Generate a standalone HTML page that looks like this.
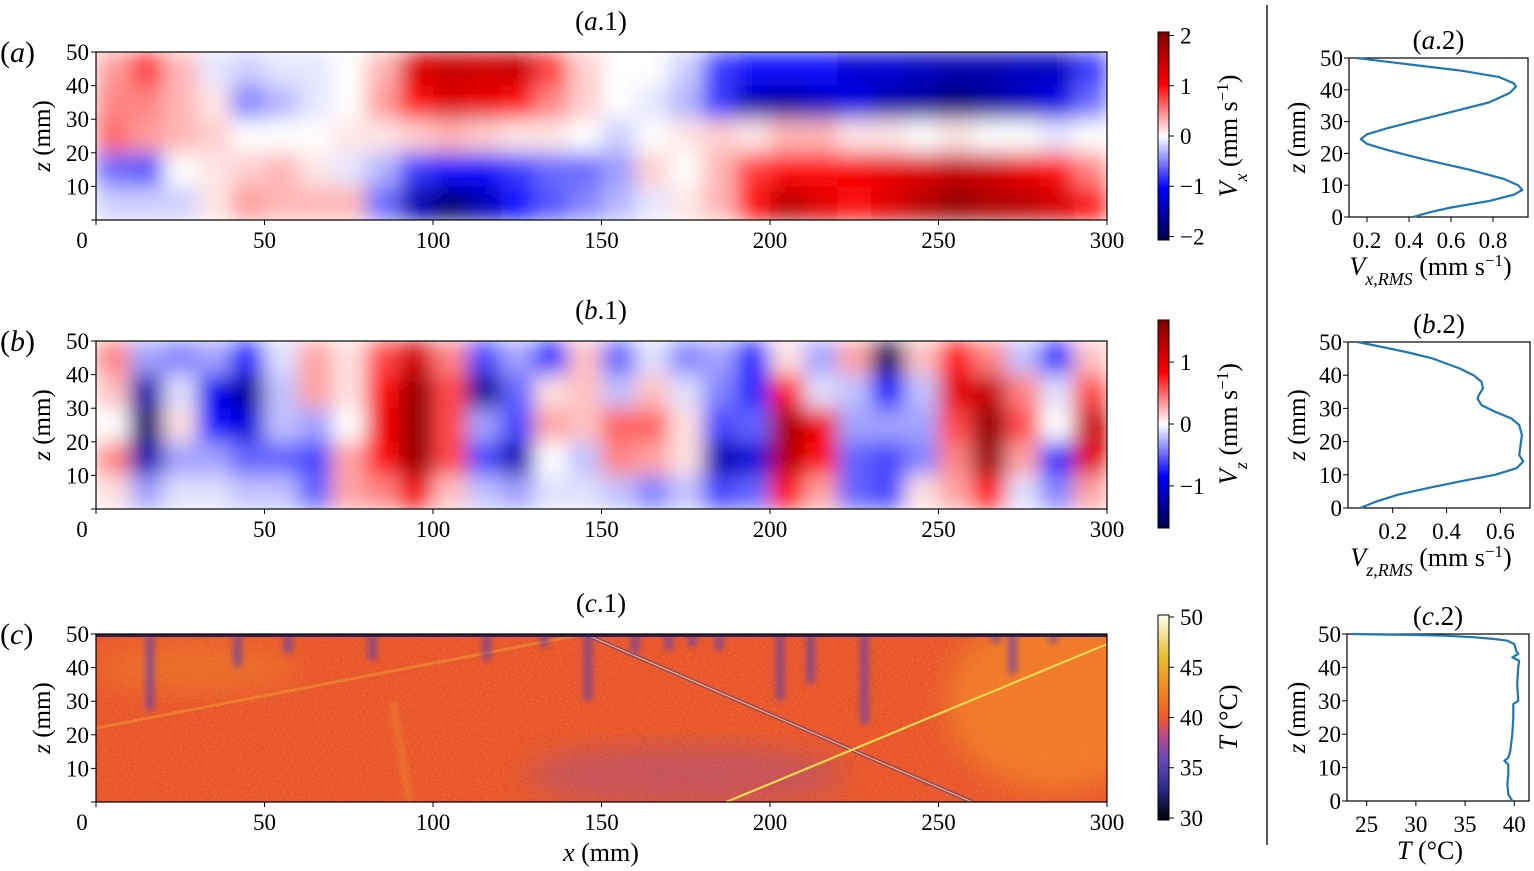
<!DOCTYPE html>
<html><head><meta charset="utf-8"><style>
body{margin:0;background:#fff;}
svg{display:block;}
svg text{font-family:"Liberation Serif","DejaVu Serif",serif;fill:#000;}
</style></head><body>
<svg id="fig" width="1534" height="871" viewBox="0 0 1534 871" font-family="Liberation Serif, serif">
<defs>
<filter id="smooth" x="0" y="0" width="1" height="1"><feGaussianBlur stdDeviation="10 11" edgeMode="duplicate"/></filter>
<filter id="blurP" x="-100%" y="-20%" width="300%" height="140%"><feGaussianBlur stdDeviation="3.5"/></filter>
<filter id="blurL" x="-20%" y="-20%" width="140%" height="140%"><feGaussianBlur stdDeviation="14"/></filter>
<filter id="grain" x="0" y="0" width="1" height="1"><feTurbulence type="fractalNoise" baseFrequency="0.35 0.9" numOctaves="2" seed="3"/><feColorMatrix type="matrix" values="0 0 0 0 0.95  0 0 0 0 0.7  0 0 0 0 0.2  0 0 0 1.6 -0.75"/></filter>
<linearGradient id="gA" x1="0" y1="1" x2="0" y2="0"><stop offset="0" stop-color="#00004c"/><stop offset="0.25" stop-color="#0000ff"/><stop offset="0.5" stop-color="#ffffff"/><stop offset="0.75" stop-color="#ff0000"/><stop offset="1" stop-color="#800000"/></linearGradient>
<linearGradient id="gT" x1="0" y1="1" x2="0" y2="0"><stop offset="0" stop-color="#000000"/><stop offset="0.15" stop-color="#2a2a8c"/><stop offset="0.3" stop-color="#6a4ab8"/><stop offset="0.42" stop-color="#c04a80"/><stop offset="0.5" stop-color="#f05a28"/><stop offset="0.65" stop-color="#f08a20"/><stop offset="0.8" stop-color="#e8c030"/><stop offset="1" stop-color="#fffff0"/></linearGradient>
<clipPath id="clipC"><rect x="96" y="634" width="1011" height="168"/></clipPath>
</defs>
<g id="root"></g>
</svg>
<script>
// ---------- data ----------
const colCentersMm = [5,15,25,35,45,55,65,75,85,95,105,115,125,135,145,155,165,175,185,195,205,215,225,235,245,255,265,275,285,295];
const rowCentersMm = [45,35,25,15,5];
const vxZ45 = [0.4,0.8,0.3,-0.1,-0.2,-0.1,-0.1,0,0.3,1.3,1.5,1.4,1.5,0.8,0.2,0,0,-0.2,-0.8,-1.0,-1.0,-1.0,-1.3,-1.3,-1.4,-1.5,-1.5,-1.4,-1.4,-0.8];
const vxZ35 = [0.5,0.5,0.3,0.1,-0.5,-0.3,-0.1,0,0.4,1.0,1.3,1.2,1.0,0.5,0.2,0,-0.1,-0.3,-0.8,-1.5,-1.6,-1.4,-1.2,-1.5,-1.6,-1.8,-1.6,-1.4,-1.2,-0.6];
const vxZ25 = [0.6,0.4,0.3,0.2,0,0,0,0.1,0.1,0.2,0.3,0.2,0.1,0.1,0,-0.2,0,0.1,0.2,0.1,0.3,0.3,0.1,0.1,0,0.1,0,0,-0.1,0];
const vxZ15 = [-0.6,-0.7,0,0.1,0.2,0.3,0.1,-0.1,-0.3,-0.8,-1.0,-1.0,-0.8,-0.6,-0.6,-0.4,0.2,0,0.3,0.8,1.0,1.0,1.1,1.2,1.3,1.5,1.4,1.2,1.0,0.5];
const vxZ5  = [-0.2,-0.2,-0.2,0.1,0.4,0.3,0.3,0.3,-0.6,-1.5,-1.9,-1.5,-1.0,-0.7,-0.5,-0.3,-0.1,0.1,0.3,1.0,1.6,1.3,1.0,1.3,1.6,1.9,1.7,1.6,1.4,1.0];
const vzZ45 = [0.4,-0.3,-0.4,-0.3,-0.7,-0.1,0.3,0.1,0.6,1.1,0.4,-0.6,-0.3,-0.7,0.2,-0.5,-0.1,-0.4,-0.3,-0.7,0.1,-0.3,0.3,-1.6,0.2,0.8,0.4,-0.2,-0.7,0.2];
const vzZ35 = [0.2,-1.2,-0.1,-0.9,-1.3,-0.2,0.3,0.1,0.8,1.5,0.6,-1.3,-0.5,0.1,0.2,-0.2,0.2,-0.1,-0.4,-0.7,0.8,-0.1,-0.2,-0.8,-0.2,1.0,1.2,0.4,-0.1,0.6];
const vzZ25 = [0,-1.5,0.1,-0.8,-1.0,-0.2,-0.3,0,0.9,1.5,0.6,-0.3,-0.6,0.3,0.2,0.5,0.5,0.1,-0.6,-0.5,1.4,0.9,-0.3,-0.3,-0.3,0.6,1.5,0.6,0,1.2];
const vzZ15 = [0.4,-1.2,-0.3,-0.3,-0.5,-0.5,-0.6,0.3,0.8,1.5,0.6,-0.6,-1.2,0,-0.2,0.4,0.3,0.1,-1.2,-1.0,1.3,0.8,-0.5,-0.6,-0.4,0.4,1.5,0.3,-0.7,1.0];
const vzZ5  = [0.1,-0.3,-0.1,-0.1,-0.2,-0.2,-0.5,0.3,0.4,0.9,0.2,-0.2,-0.3,-0.1,-0.1,-0.2,-0.4,-0.2,-0.6,-0.5,0.8,0.3,-0.5,-0.6,0.1,0.3,0.8,-0.1,-0.4,0.3];
const plumeX   = [16,42,57,82,116,133,146,160,170,177,185,203,212,228,267,272,284];
const plumeLen = [23,10,6,8,8,4,20,6,5,4,5,20,15,27,3,12,3];
const rmsXz = [50,48,46,44,42,41,39,36,33,30,28,26,24.5,23,21,18,15,12,10,8.5,7,5,3,1.5,0];
const rmsXv = [0.15,0.4,0.65,0.83,0.9,0.91,0.88,0.78,0.6,0.42,0.3,0.2,0.17,0.2,0.3,0.48,0.68,0.85,0.92,0.94,0.9,0.78,0.6,0.5,0.42];
const rmsZz = [50,47,45,42,40,38,36,34,33,31,29,27,25,22,19,16,14,12,10,8,6,4,2,0];
const rmsZv = [0.07,0.25,0.35,0.45,0.5,0.53,0.535,0.52,0.515,0.53,0.58,0.64,0.67,0.68,0.675,0.67,0.685,0.66,0.58,0.45,0.33,0.22,0.14,0.08];
const tZ = [50,49.7,49.5,49,48.5,48,47,45,44,43,42,40,35,30,29,25,20,15,13,12,11,8,5,2,0];
const tV = [23.5,30,33,36,38,39.3,40,40.2,40.4,39.8,40.5,40.4,40.3,40.4,39.9,39.9,39.8,39.6,39.4,39.0,39.4,39.4,39.3,39.4,39.8];
const xTicks = [0,50,100,150,200,250,300];
const zTicks = [10,20,30,40,50];
const zTicksR = [0,10,20,30,40,50];

// ---------- helpers ----------
const NS="http://www.w3.org/2000/svg";
const root=document.getElementById('root');
const FONT='"Liberation Serif", "DejaVu Serif", serif';
function el(tag,attrs,parent){const e=document.createElementNS(NS,tag);for(const k in attrs)e.setAttribute(k,attrs[k]);(parent||root).appendChild(e);return e;}
function txt(x,y,s,size,anchor,parent,extra){const t=el('text',Object.assign({x:x,y:y,'font-size':size,'text-anchor':anchor||'middle'},extra||{}),parent);t.style.fontFamily=FONT;t.innerHTML=s;return t;}
function seismic(v,vmax){let t=Math.max(-1,Math.min(1,v/vmax));let r,g,b;
 if(t<-0.5){const f=(t+1)/0.5;r=0;g=0;b=0.3+0.7*f;}
 else if(t<0){const f=(t+0.5)/0.5;r=f;g=f;b=1;}
 else if(t<0.5){const f=t/0.5;r=1;g=1-f;b=1-f;}
 else{const f=(t-0.5)/0.5;r=1-0.5*f;g=0;b=0;}
 return `rgb(${Math.round(r*255)},${Math.round(g*255)},${Math.round(b*255)})`;}
const X0=96,X1=1107;
const xs=mm=>X0+(X1-X0)*mm/300;
function ys(top,bot){return z=>bot-(bot-top)*z/50;}

function mainAxes(name,top,bot,letter){
 const y=ys(top,bot);
 const g=el('g',{});
 
 
 el('rect',{x:X0,y:top,width:X1-X0,height:bot-top,fill:'none',stroke:'#000','stroke-width':1.2},g);
 xTicks.forEach(v=>{el('line',{x1:xs(v),x2:xs(v),y1:bot,y2:bot+5,stroke:'#000'},g);
  const t=txt(xs(v)+(v===0?-14:0),bot+28,v,23,'middle',g);});
 el('line',{x1:X0-5,x2:X0,y1:bot,y2:bot,stroke:'#000'},g);
 zTicks.forEach(v=>{el('line',{x1:X0-5,x2:X0,y1:y(v),y2:y(v),stroke:'#000'},g);
  const t=txt(X0-7,y(v)+8,v,23,'end',g);});
 const yl=txt(0,0,'<tspan font-style="italic">z</tspan> (mm)',25,'middle',g,{transform:`translate(50,${(top+bot)/2}) rotate(-90)`});
 
 const pl=txt(0,top+10,'(<tspan font-style="italic">'+letter+'</tspan>)',30,'start',g);
 
 const tt=txt(601,top-22,'(<tspan font-style="italic">'+letter+'</tspan>.1)',27,'middle',g);
 
}

function heatmap(name,top,bot,rows,vmax){
 const y=ys(top,bot);
 const g=el('g',{filter:'url(#smooth)'});
 
 
 rows.forEach((row,ri)=>{row.forEach((v,ci)=>{
  const r=el('rect',{x:xs(colCentersMm[ci]-5),y:y(rowCentersMm[ri]+5),width:xs(10)-xs(0)+0.5,height:y(0)-y(10)+0.5,fill:seismic(v,vmax)},g);
  
  
 });});
}

function colorbar(name,top,bot,grad,ticks,vmin,vmax,label){
 const g=el('g',{});
 
 
 el('rect',{x:1158,y:top,width:11,height:bot-top,fill:`url(#${grad})`,stroke:'#000','stroke-width':1},g);
 ticks.forEach(v=>{const yy=bot-(bot-top)*(v-vmin)/(vmax-vmin);
  el('line',{x1:1169,x2:1174,y1:yy,y2:yy,stroke:'#000'},g);
  const t=txt(1180,yy+8,(v<0?'\u2212'+(-v):v),23,'start',g);});
 const l=txt(0,0,label,26,'middle',g,{transform:`translate(1237,${(top+bot)/2}) rotate(-90)`});
 
}

function profile(name,top,bot,left,right,xmin,xmax,xt,xtl,zs,vs,title,xlabel){
 const g=el('g',{});
 
 
 const xp=v=>left+(right-left)*(v-xmin)/(xmax-xmin), y=ys(top,bot);
 el('rect',{x:left,y:top,width:right-left,height:bot-top,fill:'none',stroke:'#000','stroke-width':1.2},g);
 xt.forEach((v,i)=>{el('line',{x1:xp(v),x2:xp(v),y1:bot,y2:bot+5,stroke:'#000'},g);
  const t=txt(xp(v),bot+31,xtl[i],23,'middle',g);});
 zTicksR.forEach(v=>{el('line',{x1:left-5,x2:left,y1:y(v),y2:y(v),stroke:'#000'},g);
  const t=txt(left-6,y(v)+8,v,23,'end',g);});
 const pts=zs.map((z,i)=>xp(vs[i]).toFixed(1)+','+y(z).toFixed(1)).join(' ');
 const pl=el('polyline',{points:pts,fill:'none',stroke:'#1f77b4','stroke-width':2.2,'stroke-linejoin':'round'},g);
 
 const yl=txt(0,0,'<tspan font-style="italic">z</tspan> (mm)',25,'middle',g,{transform:`translate(1305,${(top+bot)/2}) rotate(-90)`});
 
 const tt=txt((left+right)/2,top-9,title,27,'middle',g);
 const xl=txt((left+right)/2-8,bot+58,xlabel,26,'middle',g);
}

const SUP='<tspan baseline-shift="super" font-size="17">\u22121</tspan>';
// ---------- panel a ----------
heatmap('vx-heatmap',52,220,[vxZ45,vxZ35,vxZ25,vxZ15,vxZ5],2.07);
mainAxes('panel-a',52,220,'a');
colorbar('vx-colorbar',32,240,'gA',[2,1,0,-1,-2],-2.07,2.07,'<tspan font-style="italic">V<tspan baseline-shift="sub" font-size="18">x</tspan></tspan> (mm s'+SUP+')');
// ---------- panel b ----------
heatmap('vz-heatmap',341,509,[vzZ45,vzZ35,vzZ25,vzZ15,vzZ5],1.65);
mainAxes('panel-b',341,509,'b');
colorbar('vz-colorbar',320,528,'gA',[1,0,-1],-1.68,1.68,'<tspan font-style="italic">V<tspan baseline-shift="sub" font-size="18">z</tspan></tspan> (mm s'+SUP+')');
// ---------- panel c ----------
(function(){
 const top=634,bot=802,y=ys(top,bot);
 const g=el('g',{'clip-path':'url(#clipC)'});
 
 
 el('rect',{x:96,y:top,width:1011,height:168,fill:'#e9552a'},g);
 el('rect',{x:96,y:top,width:1011,height:168,filter:'url(#grain)',opacity:0.35},g);
 el('ellipse',{cx:xs(285),cy:y(30),rx:110,ry:90,fill:'#f48a2a',opacity:0.7,filter:'url(#blurL)'},g);
 el('ellipse',{cx:xs(175),cy:y(8),rx:160,ry:30,fill:'#9050a0',opacity:0.4,filter:'url(#blurL)'},g);
 el('ellipse',{cx:xs(30),cy:y(40),rx:100,ry:25,fill:'#f08a2a',opacity:0.45,filter:'url(#blurL)'},g);
 el('line',{x1:xs(0),y1:y(22),x2:xs(145),y2:y(50),stroke:'#f0a030','stroke-width':3,opacity:0.5},g);
 el('line',{x1:xs(145),y1:y(50),x2:xs(260),y2:y(0),stroke:'#6a3aa0','stroke-width':4,opacity:0.7},g);
 el('line',{x1:xs(145),y1:y(50),x2:xs(260),y2:y(0),stroke:'#f0c040','stroke-width':1.2},g);
 el('line',{x1:xs(187),y1:y(0),x2:xs(300),y2:y(47),stroke:'#f8d850','stroke-width':2.2},g);
 el('line',{x1:xs(93),y1:y(0),x2:xs(88),y2:y(30),stroke:'#f0a030','stroke-width':5,opacity:0.5,filter:'url(#blurP)'},g);
 plumeX.forEach((px,i)=>{
  const p=el('rect',{x:xs(px)-4,y:top,width:8,height:y(50-plumeLen[i])-top,rx:4,fill:'#6040b0',opacity:0.7,filter:'url(#blurP)'},g);
  
  
 });
 el('rect',{x:96,y:top,width:1011,height:3,fill:'#201850',opacity:0.9},g);
})();
mainAxes('panel-c',634,802,'c');
colorbar('t-colorbar',615,820,'gT',[50,45,40,35,30],29.8,50.2,'<tspan font-style="italic">T</tspan> (\u00b0C)');
(function(){const t=txt(601,861,'<tspan font-style="italic">x</tspan> (mm)',26,'middle');})();

(function(){const l=el('line',{x1:1267,x2:1267,y1:5,y2:845,stroke:'#000','stroke-width':1.3});})();

// ---------- profiles ----------
profile('vx-rms-profile',58,217,1349,1528,0.114,0.967,[0.2,0.4,0.6,0.8],['0.2','0.4','0.6','0.8'],rmsXz,rmsXv,'(<tspan font-style="italic">a</tspan>.2)','<tspan font-style="italic">V<tspan baseline-shift="sub" font-size="18">x,RMS</tspan></tspan> (mm s'+SUP+')');
profile('vz-rms-profile',342,508,1348,1530,0.034,0.71,[0.2,0.4,0.6],['0.2','0.4','0.6'],rmsZz,rmsZv,'(<tspan font-style="italic">b</tspan>.2)','<tspan font-style="italic">V<tspan baseline-shift="sub" font-size="18">z,RMS</tspan></tspan> (mm s'+SUP+')');
profile('t-profile',634,801,1347,1529,23,41.5,[25,30,35,40],['25','30','35','40'],tZ,tV,'(<tspan font-style="italic">c</tspan>.2)','<tspan font-style="italic">T</tspan> (\u00b0C)');
</script>
</body></html>
